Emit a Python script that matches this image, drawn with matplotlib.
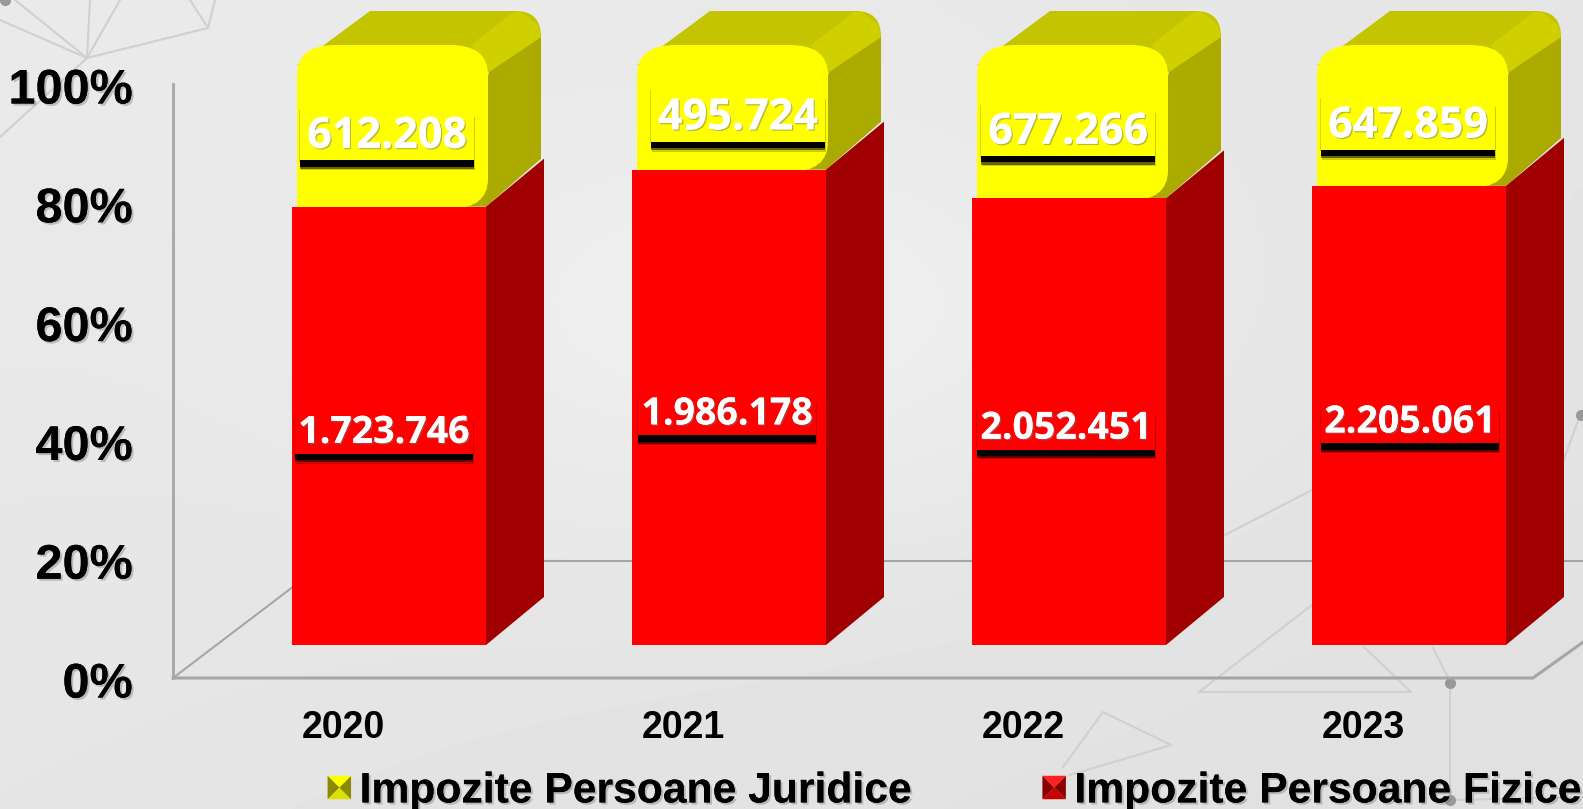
# coding=utf-8
import numpy as np
from matplotlib import pyplot as plt
from matplotlib import patheffects as pe
from matplotlib.legend_handler import HandlerBase
from matplotlib.patches import Patch, PathPatch, Polygon, Rectangle
from matplotlib.path import Path
from matplotlib.transforms import Affine2D

years = ['2020', '2021', '2022', '2023']
fizice = [1723746, 1986178, 2052451, 2205061]
juridice = [612208, 495724, 677266, 647859]
fizice_labels = ['1.723.746', '1.986.178', '2.052.451', '2.205.061']
juridice_labels = ['612.208', '495.724', '677.266', '647.859']
y_ticks = [0, 20, 40, 60, 80, 100]
names = ['Impozite Persoane Juridice', 'Impozite Persoane Fizice']

W, H = 1583, 809
# px per unit on both axes, the plot is laid out in reference pixels
PX_X = 340.0
PX_Y = 5.94


def dx(px):
    return px / PX_X


def dy(px):
    return px / PX_Y


def rounded_front(x0, x1, y0, y1, rx, ry):
    verts = [(x0, y0), (x0, y1 - ry), (x0, y1), (x0 + rx, y1), (x1 - rx, y1), (x1, y1),
             (x1, y1 - ry), (x1, y0 + ry), (x1, y0), (x1 - rx, y0), (x0, y0)]
    codes = [Path.MOVETO, Path.LINETO, Path.CURVE3, Path.CURVE3, Path.LINETO, Path.CURVE3,
             Path.CURVE3, Path.LINETO, Path.CURVE3, Path.CURVE3, Path.CLOSEPOLY]
    return Path(verts, codes)


def top_face(x0, x1, top):
    verts = [(x0 + dx(5), top - dy(20)), (x0 + dx(78), top + dy(34)), (x1 + dx(30), top + dy(34)),
             (x1 + dx(55), top + dy(34)), (x1 + dx(55), top + dy(8)), (x1 + dx(3), top - dy(27)),
             (x0 + dx(5), top - dy(20))]
    codes = [Path.MOVETO, Path.LINETO, Path.LINETO, Path.CURVE3, Path.CURVE3, Path.LINETO, Path.CLOSEPOLY]
    return Path(verts, codes)


class PyramidHandler(HandlerBase):
    def __init__(self, top, bottom, side):
        super().__init__()
        self.top, self.bottom, self.side = top, bottom, side

    def create_artists(self, legend, orig_handle, xdescent, ydescent, width, height, fontsize, trans):
        x0 = -xdescent
        y0 = -ydescent + height / 2 - width / 2
        c = (x0 + width / 2, y0 + width / 2)
        a, b = (x0, y0), (x0 + width, y0)
        d, e = (x0 + width, y0 + width), (x0, y0 + width)
        sides = [([a, b, c], self.bottom), ([b, d, c], self.side), ([d, e, c], self.top), ([e, a, c], self.side)]
        return [Polygon(p, closed=True, fc=col, ec='none', transform=trans) for p, col in sides]


plt.rcParams['font.family'] = ['Liberation Sans', 'DejaVu Sans']
fig = plt.figure(figsize=(W / 100, H / 100), dpi=100)

# page background
bg = fig.add_axes([0, 0, 1, 1], zorder=0)
yy, xx = np.mgrid[0:1:200j, 0:1:400j]
dist = np.sqrt(((xx - 0.5) / 0.8) ** 2 + ((yy - 0.4) / 0.8) ** 2)
shade = 234 - 10 * (xx + yy) / 2 + 9 * np.exp(-(dist / 0.35) ** 2)
bg.imshow(shade, cmap='gray', vmin=0, vmax=255, extent=[0, W, H, 0], aspect='auto', interpolation='bilinear')
deco = [[(0, 137), (87, 58), (15, 0)], [(87, 58), (90, 0)], [(87, 58), (120, 0)], [(87, 58), (208, 28), (215, 0)],
        [(208, 28), (190, 0)], [(0, 20), (87, 58)],
        [(1199, 692), (1411, 692), (1364, 647)], [(1199, 692), (1312, 605)], [(1225, 535), (1312, 490)],
        [(1433, 648), (1450, 681), (1450, 800), (1583, 797)], [(1580, 415), (1560, 470)],
        [(1063, 767), (1103, 712), (1171, 745), (1070, 775)]]
for line in deco:
    bg.plot(*zip(*line), color='#d0d0d0', lw=1.5)
for px, py in [(1450, 683), (1581, 415), (1450, 800)]:
    bg.plot(px, py, 'o', color='#999999', ms=7)
bg.plot(5, 0, 'o', color='#999999', ms=7)
bg.set_xlim(0, W)
bg.set_ylim(H, 0)
bg.axis('off')

# x: 2020 tick at 343 px, spacing 340 px. y: 0% at 678 px, 100% at 84 px
ax = fig.add_axes([173 / W, 1 - 678 / H, (W - 173) / W, 594 / H], zorder=1)
ax.patch.set_alpha(0)
ax.set_xlim(-0.5, -0.5 + (W - 173) / PX_X)
ax.set_ylim(0, 100)
for s in ['top', 'right', 'bottom']:
    ax.spines[s].set_visible(False)
ax.spines['left'].set_color('#a6a6a6')
ax.spines['left'].set_linewidth(2)

shadow = [pe.withSimplePatchShadow(offset=(1.5, -1.5), shadow_rgbFace='#666666', alpha=0.35), pe.Normal()]
box_shadow = [pe.withSimplePatchShadow(offset=(1, -7), shadow_rgbFace='black', alpha=0.2),
              pe.withSimplePatchShadow(offset=(0, -6), shadow_rgbFace='black', alpha=0.5),
              pe.withSimplePatchShadow(offset=(0, -4.5), shadow_rgbFace='black', alpha=1),
              pe.withSimplePatchShadow(offset=(-1, -1), shadow_rgbFace='black', alpha=0.15), pe.Normal()]

# floor of the 3d box
grey = '#a6a6a6'
ax.plot([-0.5, 3.5, 3.5 + dx(60)], [0, 0, dy(43)], color=grey, lw=2.2, clip_on=False)
ax.plot([-0.5, -0.5 + dx(154)], [0, dy(117)], color=grey, lw=1.5)
ax.plot([-0.5 + dx(154), ax.get_xlim()[1]], [dy(117), dy(117)], color=grey, lw=1.5)

ax.set_xticks(range(len(years)), years, fontsize=27, fontweight='bold', color='black')
ax.set_yticks(y_ticks, ['%d%%' % t for t in y_ticks], fontsize=35, fontweight='bold', color='black')
ax.tick_params(axis='both', length=0)
ax.tick_params(axis='x', pad=23)
ax.tick_params(axis='y', pad=29)
for lab in ax.get_yticklabels():
    lab.set_path_effects(shadow)
    lab.set_transform(lab.get_transform() + Affine2D().translate(0, -2))

# bars stand on the floor, pushed back 33 px from the front edge
base = dy(33)
bar_shift = dx(46)
half = dx(97)
depth_x = dx(58)
depth_y = dy(48)
nudge_j = [-2, 9, -1, -1]
nudge_f = [-5, -2, -3, 1]
for i, (f, j) in enumerate(zip(fizice, juridice)):
    total = f + j
    pct = 100.0 * f / total
    cx = i + bar_shift
    x0, x1 = cx - half, cx + half
    mid_y = base + pct
    top_y = base + 100 + dy(6)

    # yellow side, top and front
    ax.add_patch(Polygon([(x1 - dx(30), mid_y), (x1, mid_y), (x1 + depth_x - dx(3), mid_y + depth_y), (x1 + dx(55), top_y + dy(12)),
                          (x1 + dx(3), top_y - dy(27))], fc='#aaaa00', ec='none', zorder=2, clip_on=False))
    ax.add_patch(PathPatch(top_face(x0, x1, top_y), fc='#c4c400', ec='none', zorder=2.1, clip_on=False))
    ax.add_patch(Polygon([(x1 - dx(15), top_y), (x1 + dx(28), top_y + dy(33)), (x1 + dx(36), top_y + dy(33)),
                          (x1 + dx(52), top_y + dy(20)), (x1 + dx(55), top_y + dy(8)), (x1 + dx(3), top_y - dy(27))],
                         fc='#d0d000', ec='none', zorder=2.2, clip_on=False))
    ax.add_patch(PathPatch(rounded_front(x0 + dx(5), x1 + dx(2), mid_y - dy(2), top_y, dx(38), dy(30)),
                           fc='#ffff00', ec='none', zorder=2.5, clip_on=False))

    # red side and front
    ax.add_patch(Polygon([(x1, base), (x1 + depth_x, base + depth_y), (x1 + depth_x, mid_y + depth_y), (x1, mid_y)],
                         fc='#a00000', ec='none', zorder=3))
    ax.bar(cx, pct, width=2 * half, bottom=base, color='#ff0000', zorder=3.5)

    # value labels, a box in the bar colour with a drop shadow under it
    for val, col, yc, nd, size, bw, below, bh in [
            (juridice_labels[i], '#ffff00', base + (pct + 100) / 2 - dy(7.5), nudge_j[i], 31, 174, 24, 53),
            (fizice_labels[i], '#ff0000', base + pct / 2 - dy(7), nudge_f[i], 27, 178, 21, 42)]:
        tx = cx + dx(nd)
        box = Rectangle((tx - dx(bw / 2), yc - dy(below)), dx(bw), dy(bh), fc=col, ec='none', zorder=4.5)
        box.set_path_effects(box_shadow)
        ax.add_patch(box)
        t = ax.text(tx, yc, val, ha='center', va='center', fontsize=size, fontweight='bold', color='white',
                    family=['Open Sans', 'DejaVu Sans'], zorder=5)
        t.set_path_effects([pe.withSimplePatchShadow(offset=(1, -1), shadow_rgbFace='#777777', alpha=0.5), pe.Normal()])

handles = [Patch(label=names[0]), Patch(label=names[1])]
leg = fig.legend(handles=handles, loc='lower left', bbox_to_anchor=(302 / W, -28 / H), ncols=2, frameon=False,
                 fontsize=30.7, handlelength=0.55, handletextpad=0.2, columnspacing=3.06, borderpad=0.1,
                 handler_map={handles[0]: PyramidHandler('#ffff00', '#e0e000', '#8a8a00'),
                              handles[1]: PyramidHandler('#ff2020', '#c80000', '#8a0000')})
for txt in leg.get_texts():
    txt.set_fontweight('bold')
    txt.set_path_effects(shadow)

plt.savefig('out.png', dpi=100)
